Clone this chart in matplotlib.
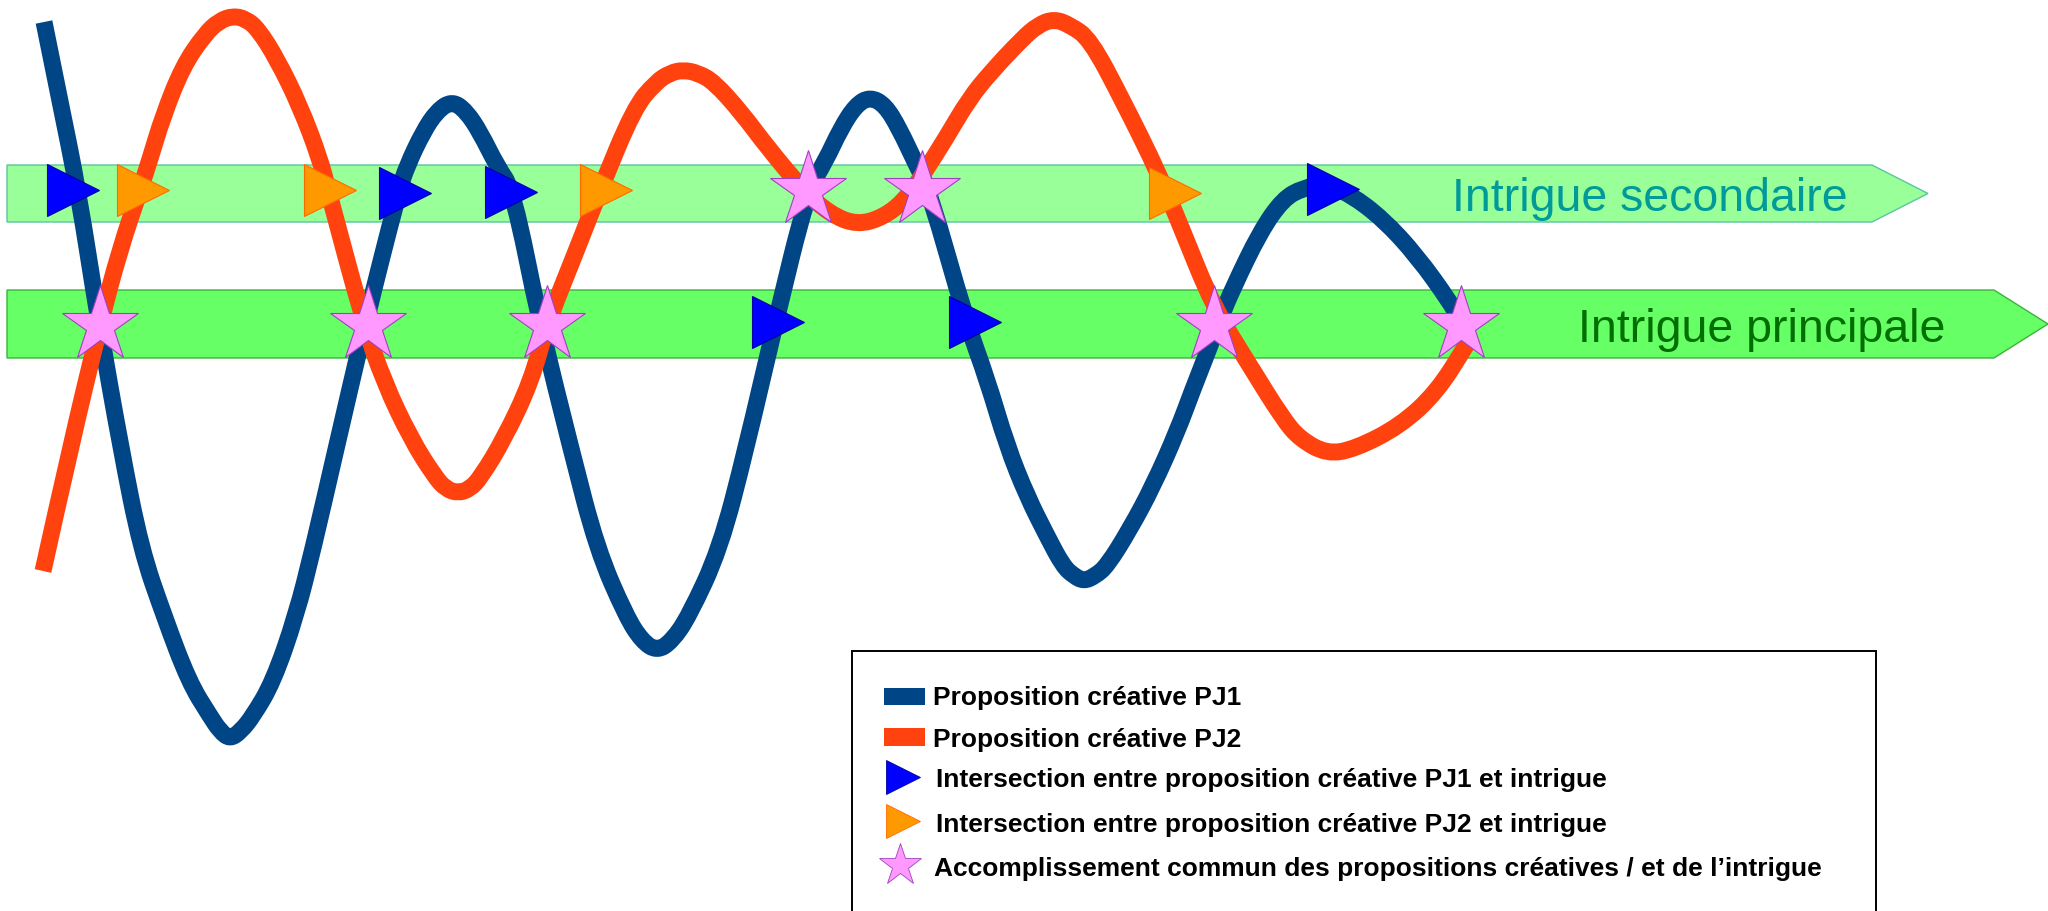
import matplotlib
matplotlib.use("Agg")
import matplotlib.pyplot as plt
from matplotlib.patches import Polygon, Rectangle, PathPatch
from matplotlib.path import Path

plt.rcParams["font.family"] = ["Liberation Sans", "DejaVu Sans"]

# Courbes (x, y en pixels, y vers le bas)
pj1_x = [44, 61, 78, 99, 121, 141, 164, 189, 210, 220, 230, 241, 253, 273, 296, 313,
         336, 365, 399, 407, 423, 437, 452, 466, 480, 497, 513, 540, 571, 597, 626,
         642, 657, 672, 689, 720, 746, 775, 808, 825, 841, 856, 870, 885, 899, 915,
         929, 967, 987, 1007, 1027, 1047, 1063, 1074, 1084, 1095, 1107, 1130, 1153,
         1177, 1193, 1208, 1220, 1233, 1260, 1283, 1303, 1325, 1350, 1383, 1417,
         1450, 1458]
pj1_y = [23, 107, 191, 325, 450, 550, 617, 683, 717, 732, 740, 732, 717, 683, 617, 550,
         450, 325, 191, 167, 133, 112, 102, 112, 133, 167, 191, 325, 450, 550, 617,
         642, 652, 642, 617, 550, 450, 325, 191, 163, 129, 106, 98, 106, 129, 163,
         191, 325, 380, 447, 497, 537, 567, 577, 582, 577, 567, 530, 487,
         433, 390, 352, 320, 289, 233, 200, 189, 185, 195, 220, 257,
         303, 318]

pj2_x = [43, 70, 100, 120, 140, 150, 163, 183, 205, 219, 233, 246, 258, 277, 300, 320,
         328, 364, 384, 411, 435, 446, 458, 470, 481, 504, 531, 547, 575, 600, 634,
         656, 670, 683, 698, 714, 741, 768, 804, 830, 857, 884, 906, 922, 946, 969,
         991, 1022, 1038, 1054, 1070, 1090, 1122, 1160, 1183, 1213, 1250, 1283, 1300,
         1327, 1355, 1400, 1437, 1467]
pj2_y = [572, 450, 325, 250, 191, 160, 117, 67, 35, 22, 17, 20, 30, 60, 107, 160,
         191, 325, 383, 440, 478, 490, 494, 490, 478, 440, 383, 325, 255, 191, 109,
         83, 74, 71, 74, 83, 113, 149, 192, 215, 226, 218, 200, 177, 139, 100,
         73, 40, 26, 20, 26, 40, 100, 177, 233, 307, 367, 420, 440,
         455, 450, 427, 393, 345]

# Marqueurs d'intersection
tri_pj1_x = [73, 405, 511, 1333, 778, 975]
tri_pj1_y = [191, 194, 193, 190, 323, 323]
tri_pj2_x = [143, 330, 606, 1175]
tri_pj2_y = [191, 191, 191, 194]
star_x = [100, 368, 547, 808, 922, 1214, 1461]
star_y = [326, 326, 326, 191, 191, 326, 326]

band_labels = ["Intrigue secondaire", "Intrigue principale"]
legend_labels = [
    "Proposition créative PJ1",
    "Proposition créative PJ2",
    "Intersection entre proposition créative PJ1 et intrigue",
    "Intersection entre proposition créative PJ2 et intrigue",
    "Accomplissement commun des propositions créatives / et de l\u2019intrigue",
]

BLUE = "#004586"
ORANGE = "#ff420e"


def courbe_lisse(xs, ys):
    # chemin quadratique : les points lus servent de points de contrôle
    pts = list(zip(xs, ys))
    verts = [pts[0]]
    codes = [Path.MOVETO]
    for i in range(1, len(pts) - 1):
        mid = ((pts[i][0] + pts[i + 1][0]) / 2, (pts[i][1] + pts[i + 1][1]) / 2)
        verts += [pts[i], mid]
        codes += [Path.CURVE3, Path.CURVE3]
    verts.append(pts[-1])
    codes.append(Path.LINETO)
    return Path(verts, codes)


fig = plt.figure(figsize=(20.48, 9.12), dpi=100)
ax = fig.add_axes([0, 0, 1, 1])
ax.set_xlim(0, 2048)
ax.set_ylim(912, 0)
ax.axis("off")

# bandes fléchées
sec = Polygon([(7, 166), (1872, 166), (1928, 194.5), (1872, 223), (7, 223)],
              closed=True, facecolor="#99ff99", edgecolor="#5cc4a0", lw=1.0, zorder=1)
prim = Polygon([(7, 291), (1994, 291), (2048, 325), (1994, 359), (7, 359)],
               closed=True, facecolor="#66ff66", edgecolor="#3cb33c", lw=1.0, zorder=1)
ax.add_patch(sec)
ax.add_patch(prim)
ax.text(1452, 211, band_labels[0], fontsize=33.5, color="#009a9a", va="baseline", zorder=2)
ax.text(1578, 342, band_labels[1], fontsize=33.5, color="#006e00", va="baseline", zorder=2)

# courbes
for xs, ys, col in [(pj1_x, pj1_y, BLUE), (pj2_x, pj2_y, ORANGE)]:
    ax.add_patch(PathPatch(courbe_lisse(xs, ys), fill=False, edgecolor=col, lw=12.2,
                           capstyle="butt", joinstyle="round", zorder=3))

# marqueurs
ax.plot(tri_pj1_x, tri_pj1_y, ls="none", marker=">", ms=37, mfc="#0000ff",
        mec="#0000a0", mew=0.8, zorder=5)
ax.plot(tri_pj2_x, tri_pj2_y, ls="none", marker=">", ms=37, mfc="#ff9900",
        mec="#ff6a00", mew=0.8, zorder=5)
ax.plot(star_x, star_y, ls="none", marker="*", ms=57, mfc="#ff99ff",
        mec="#a040c0", mew=0.8, zorder=6)

# légende
ax.add_patch(Rectangle((852, 652), 1024, 280, facecolor="white", edgecolor="black",
                       lw=1.4, zorder=7))
ax.add_patch(Rectangle((884, 689), 41, 17, facecolor=BLUE, edgecolor="none", zorder=8))
ax.add_patch(Rectangle((884, 729), 41, 18, facecolor=ORANGE, edgecolor="none", zorder=8))
ax.plot([903], [778], ls="none", marker=">", ms=24, mfc="#0000ff", mec="#0000a0",
        mew=0.6, zorder=8)
ax.plot([903], [822], ls="none", marker=">", ms=24, mfc="#ff9900", mec="#ff6a00",
        mew=0.6, zorder=8)
ax.plot([900], [866], ls="none", marker="*", ms=32, mfc="#ff99ff", mec="#a040c0",
        mew=0.6, zorder=8)

legend_x = [933, 933, 936, 936, 934]
legend_base = [705, 747, 787, 832, 876]
for lx, ly, lab in zip(legend_x, legend_base, legend_labels):
    ax.text(lx, ly, lab, fontsize=19, fontweight="bold", color="black",
            va="baseline", zorder=9)

fig.savefig("out.png", dpi=100, facecolor="white")
